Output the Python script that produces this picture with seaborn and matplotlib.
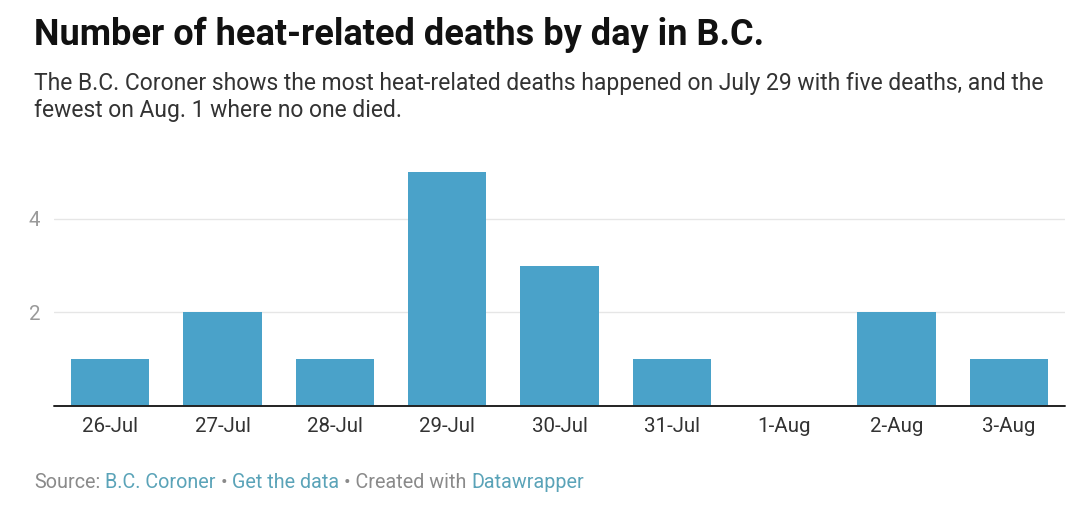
import matplotlib
matplotlib.use("Agg")
import matplotlib.pyplot as plt
import seaborn as sns
import pandas as pd

# data
days = ["26-Jul", "27-Jul", "28-Jul", "29-Jul", "30-Jul", "31-Jul", "1-Aug", "2-Aug", "3-Aug"]
deaths = [1, 2, 1, 5, 3, 1, 0, 2, 1]
y_ticks = [2, 4]

title = "Number of heat-related deaths by day in B.C."
subtitle = ("The B.C. Coroner shows the most heat-related deaths happened on July 29 with five deaths, and the\n"
            "fewest on Aug. 1 where no one died.")
# footer pieces, joined by single spaces
footer_parts = [("Source:", "#8a8a8a"), ("B.C. Coroner", "#5aa3b8"), ("\u2022", "#8a8a8a"),
                ("Get the data", "#5aa3b8"), ("\u2022 Created with", "#8a8a8a"), ("Datawrapper", "#5aa3b8")]

df = pd.DataFrame({"day": days, "deaths": deaths})

sns.set_style("white")
plt.rcParams["font.family"] = ["Roboto", "DejaVu Sans"]

fig = plt.figure(figsize=(10.8, 5.2), dpi=100)
ax = fig.add_axes([54 / 1080, 114 / 520, 1011 / 1080, 234 / 520])

sns.barplot(data=df, x="day", y="deaths", color="#4aa2c9", width=0.70,
            saturation=1, linewidth=0, ax=ax, zorder=3)

ax.set_xlim(-0.5, len(days) - 0.5)
ax.set_ylim(0, 5)
ax.set_yticks(y_ticks)
ax.set_yticklabels([str(t) for t in y_ticks])
for t in y_ticks:
    ax.axhline(t, color="#e6e6e6", lw=1, zorder=1)
ax.axhline(0, color="#222222", lw=1.4, zorder=4, clip_on=False)

for s in ax.spines.values():
    s.set_visible(False)
ax.set_xlabel("")
ax.set_ylabel("")
ax.tick_params(axis="x", length=0, pad=8, labelsize=14.8, labelcolor="#333333")
ax.tick_params(axis="y", length=0, pad=10, labelsize=14.8, labelcolor="#9a9a9a")

fig.text(34 / 1080, 1 - 45 / 520, title, fontsize=26, fontweight="bold",
         color="#111111", va="baseline", ha="left")
fig.text(34 / 1080, 1 - 72 / 520, subtitle, fontsize=16.5, color="#333333",
         va="top", ha="left", linespacing=1.25)

# footer: colored pieces laid out in a row
fig.canvas.draw()
r = fig.canvas.get_renderer()
probe = fig.text(0, 0, "a a", fontsize=14.2)
probe2 = fig.text(0, 0, "aa", fontsize=14.2)
space_w = probe.get_window_extent(renderer=r).width - probe2.get_window_extent(renderer=r).width
probe.remove()
probe2.remove()

x0 = 34
for txt, col in footer_parts:
    t = fig.text(x0 / 1080, 1 - 488 / 520, txt, fontsize=14.2, color=col,
                 va="baseline", ha="left")
    x0 += t.get_window_extent(renderer=r).width + space_w

fig.savefig("out.png", dpi=100)
